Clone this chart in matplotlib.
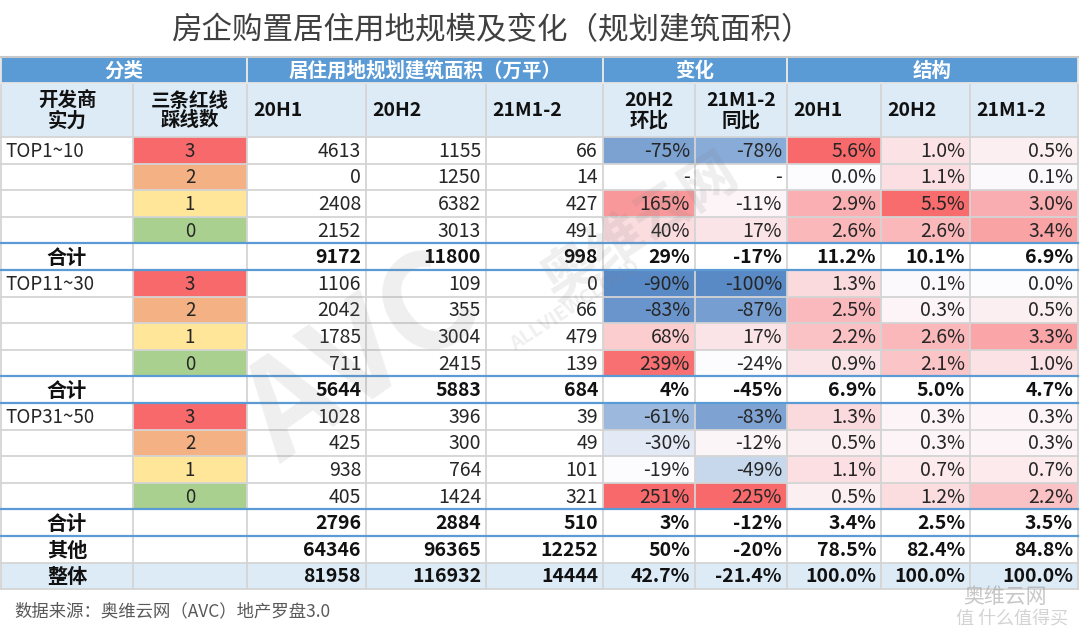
import matplotlib
matplotlib.use("Agg")
import matplotlib.pyplot as plt
from matplotlib.patches import Rectangle
import numpy as np

plt.rcParams['font.family'] = ['Noto Sans CJK SC', 'DejaVu Sans']

# ---------------- data ----------------
title = "房企购置居住用地规模及变化（规划建筑面积）"
source = "数据来源：奥维云网（AVC）地产罗盘3.0"

group_headers = ["分类", "居住用地规划建筑面积（万平）", "变化", "结构"]
sub_headers = ["开发商\n实力", "三条红线\n踩线数", "20H1", "20H2", "21M1-2",
               "20H2\n环比", "21M1-2\n同比", "20H1", "20H2", "21M1-2"]

row_labels = ["TOP1~10", "", "", "", "合计",
              "TOP11~30", "", "", "", "合计",
              "TOP31~50", "", "", "", "合计",
              "其他", "整体"]
row_kind = ["d", "d", "d", "d", "t",
            "d", "d", "d", "d", "t",
            "d", "d", "d", "d", "t",
            "o", "a"]
redline_counts = [3, 2, 1, 0, None, 3, 2, 1, 0, None, 3, 2, 1, 0, None, None, None]

area_20H1 = [4613, 0, 2408, 2152, 9172, 1106, 2042, 1785, 711, 5644,
             1028, 425, 938, 405, 2796, 64346, 81958]
area_20H2 = [1155, 1250, 6382, 3013, 11800, 109, 355, 3004, 2415, 5883,
             396, 300, 764, 1424, 2884, 96365, 116932]
area_21M12 = [66, 14, 427, 491, 998, 0, 66, 479, 139, 684,
              39, 49, 101, 321, 510, 12252, 14444]
qoq_20H2 = [-75, None, 165, 40, 29, -90, -83, 68, 239, 4,
            -61, -30, -19, 251, 3, 50, 42.7]
yoy_21M12 = [-78, None, -11, 17, -17, -100, -87, 17, -24, -45,
             -83, -12, -49, 225, -12, -20, -21.4]
share_20H1 = [5.6, 0.0, 2.9, 2.6, 11.2, 1.3, 2.5, 2.2, 0.9, 6.9,
              1.3, 0.5, 1.1, 0.5, 3.4, 78.5, 100.0]
share_20H2 = [1.0, 1.1, 5.5, 2.6, 10.1, 0.1, 0.3, 2.6, 2.1, 5.0,
              0.3, 0.3, 0.7, 1.2, 2.5, 82.4, 100.0]
share_21M12 = [0.5, 0.1, 3.0, 3.4, 6.9, 0.0, 0.5, 3.3, 1.0, 4.7,
               0.3, 0.3, 0.7, 2.2, 3.5, 84.8, 100.0]

# ---------------- layout / style ----------------
W, H = 1080, 634
col_edges = [1, 133, 247, 366, 486, 603, 695, 787, 881, 970, 1078]
group_spans = [(0, 2), (2, 5), (5, 7), (7, 10)]
y_h1, y_h2, y_d0 = 57, 83, 137
row_h = 26.6

HEAD_BLUE = "#5B9BD5"
LIGHT_BLUE = "#DDEBF7"
GRID = "#D4D4D4"
RED_LINE_COLORS = {3: "#F8696B", 2: "#F4B183", 1: "#FFE699", 0: "#A9D08E"}
C_MIN = np.array([0x5A, 0x8A, 0xC6]) / 255
C_MID = np.array([0xFC, 0xFC, 0xFF]) / 255
C_MAX = np.array([0xF8, 0x69, 0x6B]) / 255

fig = plt.figure(figsize=(W / 100, H / 100), dpi=100)
ax = fig.add_axes([0, 0, 1, 1])
ax.set_xlim(0, W)
ax.set_ylim(H, 0)
ax.axis("off")


def three_color(v, vals):
    vmin, vmid, vmax = min(vals), float(np.percentile(vals, 50)), max(vals)
    if v <= vmid:
        t = (vmid - v) / (vmid - vmin) if vmid > vmin else 0
        return C_MID + (C_MIN - C_MID) * t
    t = (v - vmid) / (vmax - vmid) if vmax > vmid else 0
    return C_MID + (C_MAX - C_MID) * t


def two_color(v, vmin, vmax):
    t = (v - vmin) / (vmax - vmin)
    return C_MID + (C_MAX - C_MID) * t


def cell(ci, y0, h, color):
    ax.add_patch(Rectangle((col_edges[ci], y0), col_edges[ci + 1] - col_edges[ci], h,
                           facecolor=color, edgecolor="none", zorder=1))


# title
ax.text(491, 31, title, ha="center", va="center", fontsize=22, color="#404040")

# header row 1
ax.add_patch(Rectangle((col_edges[0], y_h1), col_edges[-1] - col_edges[0], y_h2 - y_h1,
                       facecolor=HEAD_BLUE, edgecolor="none", zorder=1))
for (a, b), label in zip(group_spans, group_headers):
    ax.text((col_edges[a] + col_edges[b]) / 2, (y_h1 + y_h2) / 2 + 1, label,
            ha="center", va="center", fontsize=14, color="white", fontweight="bold", zorder=4)
# header row 2
ax.add_patch(Rectangle((col_edges[0], y_h2), col_edges[-1] - col_edges[0], y_d0 - y_h2,
                       facecolor=LIGHT_BLUE, edgecolor="none", zorder=1))
for ci, label in enumerate(sub_headers):
    yc = (y_h2 + y_d0) / 2 + 1
    if "\n" in label:
        ax.text((col_edges[ci] + col_edges[ci + 1]) / 2, yc, label, ha="center", va="center",
                fontsize=14, fontweight="bold", color="#111111", linespacing=1.05, zorder=4)
    else:
        ax.text(col_edges[ci] + 6, yc, label, ha="left", va="center",
                fontsize=14, fontweight="bold", color="#111111", zorder=4)

n_rows = len(row_labels)
data_idx = [i for i, k in enumerate(row_kind) if k == "d"]
qoq_vals = [qoq_20H2[i] for i in data_idx if qoq_20H2[i] is not None]
yoy_vals = [yoy_21M12[i] for i in data_idx if yoy_21M12[i] is not None]
share_all = [s[i] for s in (share_20H1, share_20H2, share_21M12) for i in data_idx]
smin, smax = min(share_all), max(share_all)


def fmt_int(v):
    return f"{v}"


def fmt_change(v):
    if v is None:
        return "-"
    if float(v).is_integer():
        return f"{int(v)}%"
    return f"{v:.1f}%"


def fmt_share(v):
    return f"{v:.1f}%"


for r in range(n_rows):
    y0 = y_d0 + r * row_h
    yc = y0 + row_h / 2 + 1
    kind = row_kind[r]
    bold = kind != "d"
    fw = "bold" if bold else "normal"
    tcol = "#111111" if bold else "#262626"
    if kind == "a":
        ax.add_patch(Rectangle((col_edges[0], y0), col_edges[-1] - col_edges[0], row_h,
                               facecolor=LIGHT_BLUE, edgecolor="none", zorder=1))
    # label column
    if kind == "d":
        if row_labels[r]:
            ax.text(col_edges[0] + 4, yc, row_labels[r], ha="left", va="center",
                    fontsize=13.5, color=tcol, zorder=4)
    else:
        ax.text((col_edges[0] + col_edges[1]) / 2, yc, row_labels[r], ha="center", va="center",
                fontsize=14.5, fontweight="bold", color="#111111", zorder=4)
    # red-line column
    rc = redline_counts[r]
    if rc is not None:
        cell(1, y0, row_h, RED_LINE_COLORS[rc])
        ax.text((col_edges[1] + col_edges[2]) / 2, yc, str(rc), ha="center", va="center",
                fontsize=13.5, color=tcol, zorder=4)
    # values
    values = [fmt_int(area_20H1[r]), fmt_int(area_20H2[r]), fmt_int(area_21M12[r]),
              fmt_change(qoq_20H2[r]), fmt_change(yoy_21M12[r]),
              fmt_share(share_20H1[r]), fmt_share(share_20H2[r]), fmt_share(share_21M12[r])]
    if kind == "d":
        if qoq_20H2[r] is not None:
            cell(5, y0, row_h, three_color(qoq_20H2[r], qoq_vals))
        if yoy_21M12[r] is not None:
            cell(6, y0, row_h, three_color(yoy_21M12[r], yoy_vals))
        for k, s in enumerate((share_20H1, share_20H2, share_21M12)):
            cell(7 + k, y0, row_h, two_color(s[r], smin, smax))
    for k, txt in enumerate(values):
        ci = 2 + k
        ax.text(col_edges[ci + 1] - 5, yc, txt, ha="right", va="center",
                fontsize=14, fontweight=fw, color=tcol, zorder=4)

# grid lines
y_end = y_d0 + n_rows * row_h
for x in col_edges:
    ax.plot([x, x], [y_h2, y_end], color=GRID, lw=1.3, zorder=2)
for a, b in group_spans:
    for x in (col_edges[a], col_edges[b]):
        ax.plot([x, x], [y_h1, y_h2], color="#E4E4E4", lw=1.3, zorder=2)
ax.plot([col_edges[0], col_edges[-1]], [y_h1, y_h1], color="#C8C8C8", lw=1.5, zorder=2)
ax.plot([col_edges[0], col_edges[-1]], [y_h2, y_h2], color="#E6E6E6", lw=1.3, zorder=2)
for r in range(n_rows + 1):
    y = y_d0 + r * row_h
    blue = (r < n_rows and row_kind[r] == "t") or (r > 0 and row_kind[r - 1] == "t")
    ax.plot([col_edges[0], col_edges[-1]], [y, y], color=HEAD_BLUE if blue else GRID,
            lw=1.6 if blue else 1.3, zorder=3 if blue else 2)

# watermark
ax.text(362, 360, "AVC", rotation=35, ha="center", va="center", fontsize=95,
        fontweight="bold", color="#808080", alpha=0.13, zorder=5)
ax.text(640, 228, "奥维云网", rotation=33, ha="center", va="center", fontsize=40,
        fontweight="bold", color="#808080", alpha=0.13, zorder=5)
ax.text(575, 305, "ALLVIEWCLOUD", rotation=33, ha="center", va="center", fontsize=14,
        fontweight="bold", color="#808080", alpha=0.13, zorder=5)
ax.text(1005, 597, "奥维云网", ha="center", va="center", fontsize=15,
        color="#9A9A9A", alpha=0.55, zorder=5)
ax.text(1012, 619, "值 什么值得买", ha="center", va="center", fontsize=13,
        color="#B0B0B0", alpha=0.55, zorder=5)

# source
ax.text(14, 611, source, ha="left", va="center", fontsize=12.5, color="#595959")

fig.savefig("out.png", dpi=100)
